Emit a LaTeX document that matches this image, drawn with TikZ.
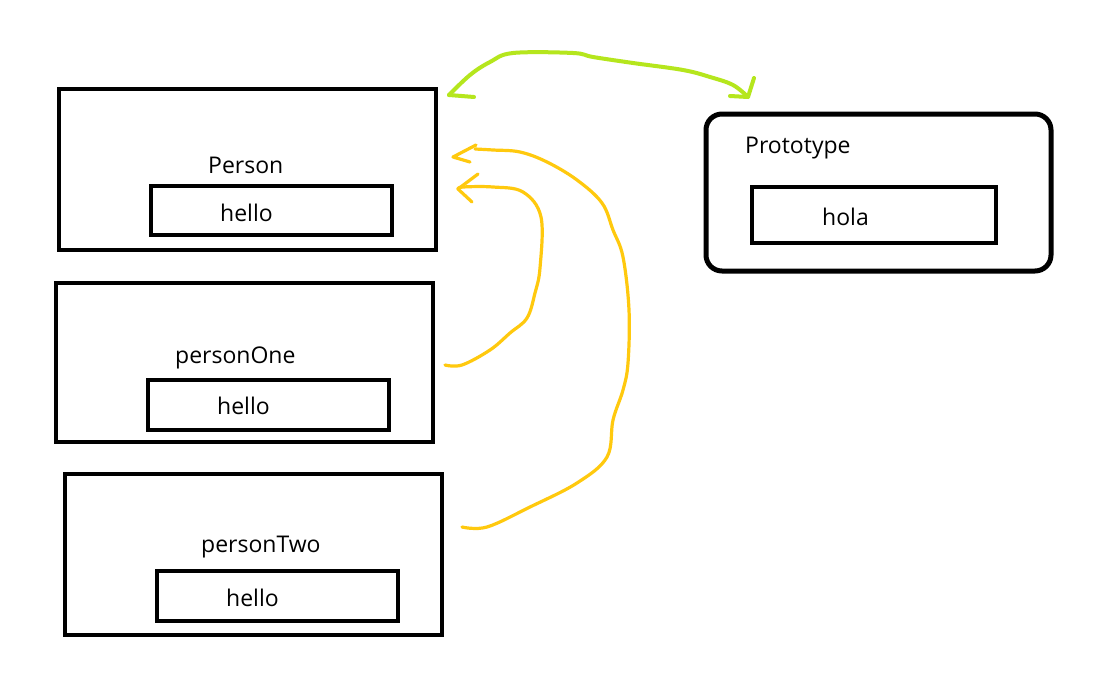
\documentclass[tikz,border=0pt]{standalone}
\usepackage{fontspec}
\setmainfont{Open Sans}
\begin{document}
\begin{tikzpicture}[x=1pt,y=-1pt,
  box/.style={draw=black, line width=4.5pt, inner sep=0pt, outer sep=0pt},
  lbl/.style={anchor=base west, inner sep=0pt, font=\fontsize{23}{28}\selectfont},
  greenline/.style={draw={rgb,255:red,181;green,230;blue,29}, line width=4pt, line cap=round, line join=round},
  goldline/.style={draw={rgb,255:red,255;green,201;blue,14}, line width=3.2pt, line cap=round, line join=round}]
\useasboundingbox[fill=white] (0,0) rectangle (1100,693);
% boxes
\node[box, minimum width=377pt, minimum height=161pt] (person) at (247.5,169.5) {};
\node[box, minimum width=241pt, minimum height=49pt] (personHello) at (271.5,210.5) {};
\node[box, minimum width=377pt, minimum height=159pt] (one) at (244.5,362.5) {};
\node[box, minimum width=241pt, minimum height=50pt] (oneHello) at (268.5,405) {};
\node[box, minimum width=377pt, minimum height=161pt] (two) at (253.5,554.5) {};
\node[box, minimum width=241pt, minimum height=50pt] (twoHello) at (277.5,596) {};
\node[box, line width=5pt, rounded corners=16pt, minimum width=345pt, minimum height=157pt] (proto) at (878.5,192.5) {};
\node[box, minimum width=244pt, minimum height=56pt] (hola) at (874,215) {};
% labels
\node[lbl] (tPerson) at (208,173) {Person};
\node[lbl] (tPersonHello) at (220,221) {hello};
\node[lbl] (tOne) at (175,363) {personOne};
\node[lbl] (tOneHello) at (217,414) {hello};
\node[lbl] (tTwo) at (201,552) {personTwo};
\node[lbl] (tTwoHello) at (226,606) {hello};
\node[lbl] (tProto) at (745,153) {Prototype};
\node[lbl] (tHola) at (822,225) {hola};
% green double arrow Person <-> Prototype
\coordinate (gL) at (449,95);
\coordinate (gR) at (748,97);
\draw[greenline] plot[smooth, tension=0.6] coordinates {(gL) (470,75) (490,62) (513,53) (573,53) (593,57) (633,63) (683,70) (710,77) (733,85) (gR)};
\draw[greenline] (gL) -- (474,97);
\draw[greenline] (730,96) -- (gR) -- (754,78);
% gold arrow personTwo -> Person
\coordinate (twoS) at (462,527);
\coordinate (twoT) at (453,157);
\draw[goldline] plot[smooth, tension=0.6] coordinates {(twoS) (487,527) (530,507) (577,483) (607,457) (613,420) (623,390) (628,363) (629,310) (623,257) (613,230) (602,203) (577,180) (547,162) (520,152) (493,150) (475,149)};
\draw[goldline] (476,145) -- (twoT) -- (470,162);
% gold arrow personOne -> Person
\coordinate (oneS) at (445,365);
\coordinate (oneT) at (458,189);
\draw[goldline] plot[smooth, tension=0.6] coordinates {(oneS) (462,365) (490,350) (510,333) (527,318) (535,293) (540,268) (541,217) (523,192) (493,187) (463,187) (oneT)};
\draw[goldline] (478,174) -- (oneT) -- (472,202);
\end{tikzpicture}
\end{document}
